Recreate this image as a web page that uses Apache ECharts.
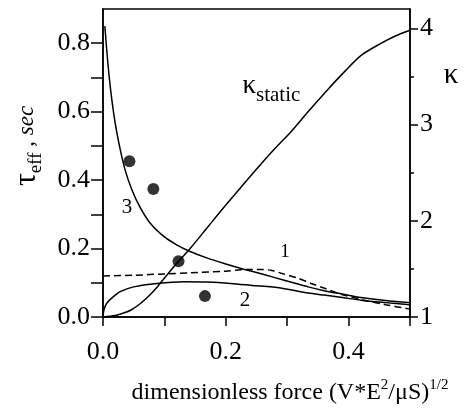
<!DOCTYPE html>
<html>
<head>
<meta charset="utf-8">
<script src="https://cdn.jsdelivr.net/npm/echarts@6/dist/echarts.min.js"></script>
<style>html,body{margin:0;padding:0;background:#fff}#c{width:464px;height:413px}</style>
</head>
<body>
<div id="c"></div>
<script>
// ---- data ----
// curve 3 (solid, decaying), tau_eff vs force
const curve3 = [
  [0.003,0.85],[0.008,0.74],[0.013,0.655],[0.02,0.565],[0.028,0.49],[0.036,0.43],
  [0.047,0.372],[0.06,0.322],[0.077,0.274],[0.1,0.234],[0.12,0.211],[0.14,0.193],
  [0.17,0.172],[0.2,0.155],[0.225,0.142],[0.25,0.13],[0.28,0.115],[0.31,0.1],
  [0.334,0.088],[0.36,0.077],[0.39,0.067],[0.42,0.057],[0.46,0.048],[0.5,0.042]
];
// curve 2 (solid, hump)
const curve2 = [
  [0,0.004],[0.002,0.024],[0.006,0.04],[0.011,0.05],[0.02,0.064],[0.028,0.074],
  [0.05,0.088],[0.088,0.098],[0.132,0.103],[0.17,0.102],[0.208,0.098],[0.25,0.091],
  [0.28,0.087],[0.31,0.078],[0.334,0.07],[0.36,0.064],[0.39,0.057],[0.42,0.049],
  [0.46,0.042],[0.5,0.036]
];
// curve 1 (dashed)
const curve1 = [
  [0,0.12],[0.05,0.122],[0.1,0.126],[0.143,0.129],[0.2,0.134],[0.225,0.138],
  [0.257,0.139],[0.275,0.136],[0.29,0.128],[0.318,0.113],[0.339,0.098],[0.361,0.084],
  [0.389,0.066],[0.421,0.051],[0.46,0.036],[0.5,0.023]
];
// kappa_static (right axis)
const kappaStatic = [
  [0,1.0],[0.02,1.015],[0.033,1.04],[0.045,1.07],[0.061,1.14],[0.075,1.22],[0.088,1.31],
  [0.115,1.52],[0.143,1.72],[0.17,1.93],[0.197,2.14],[0.225,2.35],[0.252,2.55],
  [0.28,2.75],[0.307,2.93],[0.335,3.14],[0.367,3.37],[0.395,3.56],[0.421,3.72],
  [0.449,3.83],[0.476,3.92],[0.5,3.98]
];
// experimental points
const dots = [[0.043,0.455],[0.082,0.374],[0.123,0.163],[0.166,0.061]];

const xTicks = [0,0.1,0.2,0.3,0.4,0.5];
const xLabels = [0,0.2,0.4];
const yLeftTicks = [0,0.1,0.2,0.3,0.4,0.5,0.6,0.7,0.8];
const yLeftLabels = [0,0.2,0.4,0.6,0.8];
const yRightTicks = [1,2,3,4];

const F = '"Liberation Serif", "DejaVu Serif", serif';
const chart = echarts.init(document.getElementById('c'));
const axisLine = {show:true, lineStyle:{color:'#000', width:1.5}};
chart.setOption({
  animation:false,
  backgroundColor:'#fff',
  grid:{left:103, right:54, top:9, bottom:96, show:true, borderColor:'#000', borderWidth:1.5},
  xAxis:{type:'value', min:0, max:0.5, interval:0.1,
    axisLine:axisLine, splitLine:{show:false},
    axisTick:{show:true, inside:false, length:9, lineStyle:{color:'#000', width:1.5}, customValues:xTicks},
    axisLabel:{customValues:xLabels, margin:22, color:'#000', fontFamily:F, fontSize:26,
      formatter:v=>v.toFixed(1)}
  },
  yAxis:[
    {type:'value', min:0, max:0.9, interval:0.1, position:'left',
      axisLine:axisLine, splitLine:{show:false},
      axisTick:{show:true, length:12, lineStyle:{color:'#000', width:1.5}, customValues:yLeftTicks},
      axisLabel:{customValues:yLeftLabels, margin:13, color:'#000', fontFamily:F, fontSize:26,
        formatter:v=>v.toFixed(1)}
    },
    {type:'value', min:1, max:4.2, interval:1, position:'right',
      axisLine:axisLine, splitLine:{show:false},
      axisTick:{show:true, length:8, lineStyle:{color:'#000', width:1.5}, customValues:yRightTicks},
      minorTick:{show:true, splitNumber:2, length:4, lineStyle:{color:'#000', width:1.5}},
      axisLabel:{customValues:yRightTicks, margin:10, color:'#000', fontFamily:F, fontSize:26,
        formatter:v=>String(Math.round(v))}
    }
  ],
  series:[
    {type:'line', data:curve3, showSymbol:false, smooth:0.3, lineStyle:{color:'#000', width:1.5}},
    {type:'line', data:curve2, showSymbol:false, smooth:0.3, lineStyle:{color:'#000', width:1.5}},
    {type:'line', data:curve1, showSymbol:false, smooth:0.3, lineStyle:{color:'#000', width:1.5, type:[7,4]}},
    {type:'line', data:kappaStatic, yAxisIndex:1, showSymbol:false, smooth:0.3, lineStyle:{color:'#000', width:1.5}},
    {type:'scatter', data:dots, symbol:'circle', symbolSize:12, itemStyle:{color:'#000'}}
  ],
  graphic:[
    {type:'text', x:127, y:207, style:{text:'3', font:'21px '+F, fill:'#000', textAlign:'center', textVerticalAlign:'middle'}},
    {type:'text', x:245, y:300, style:{text:'2', font:'21px '+F, fill:'#000', textAlign:'center', textVerticalAlign:'middle'}},
    {type:'text', x:285, y:252, style:{text:'1', font:'19px '+F, fill:'#000', textAlign:'center', textVerticalAlign:'middle'}},
    {type:'text', x:256, y:86, style:{text:'κ', font:'27px '+F, fill:'#000', textAlign:'right', textVerticalAlign:'middle'}},
    {type:'text', x:256, y:95, style:{text:'static', font:'21px '+F, fill:'#000', textAlign:'left', textVerticalAlign:'middle'}},
    {type:'text', x:451, y:75, style:{text:'κ', font:'29px '+F, fill:'#000', textAlign:'center', textVerticalAlign:'middle'}},
    {type:'text', x:290, y:393, style:{
      text:'{n|dimensionless force (V*E}{s|2}{n|/μS)}{s|1/2}',
      textAlign:'center', textVerticalAlign:'middle', fill:'#000',
      rich:{
        n:{fontSize:24, fontFamily:F, lineHeight:30, fill:'#000'},
        s:{fontSize:15, fontFamily:F, lineHeight:10, verticalAlign:'top', fill:'#000'}
      }}},
    {type:'text', x:27, y:146, rotation:Math.PI/2, style:{
      text:'{t|τ}{e|eff}{n| , }{i|sec}',
      textAlign:'center', textVerticalAlign:'middle', fill:'#000',
      rich:{
        t:{fontSize:32, fontFamily:F, lineHeight:38, fill:'#000'},
        e:{fontSize:19, fontFamily:F, lineHeight:18, verticalAlign:'bottom', fill:'#000'},
        n:{fontSize:23, fontFamily:F, lineHeight:38, fill:'#000'},
        i:{fontSize:23, fontFamily:F, fontStyle:'italic', lineHeight:38, fill:'#000'}
      }}}
  ]
});
</script>
</body>
</html>
